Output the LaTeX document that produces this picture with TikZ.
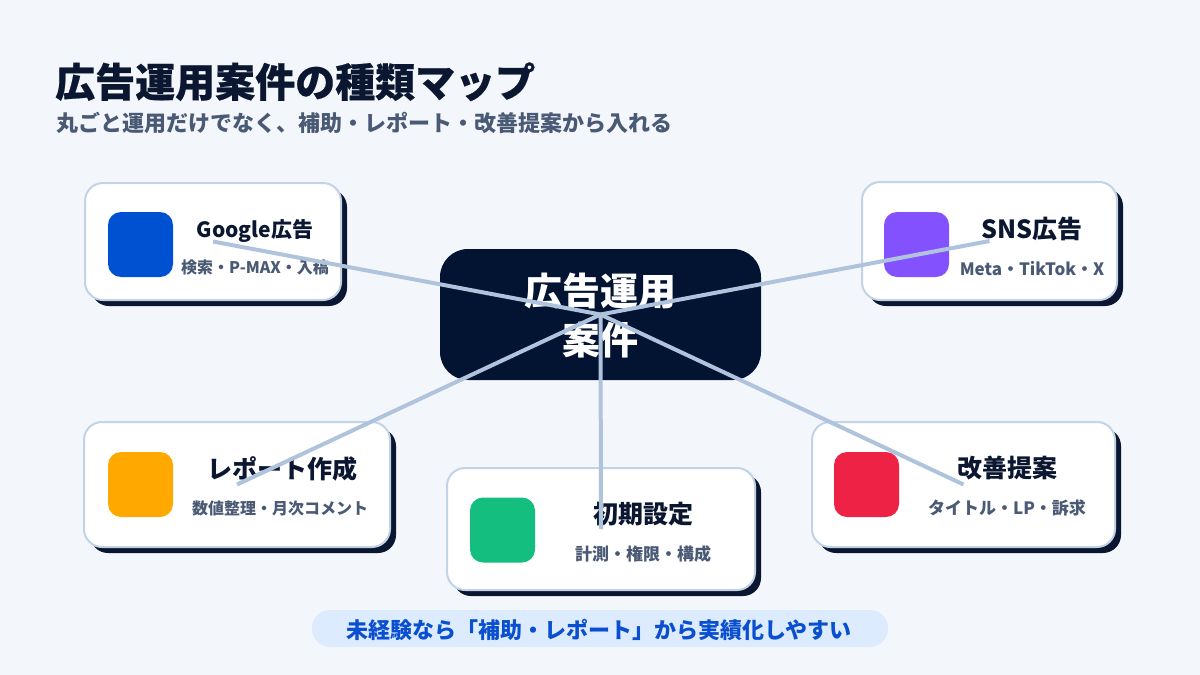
\documentclass[tikz,border=0pt]{standalone}
\usepackage{fontspec}
\setmainfont{Noto Sans CJK JP}
\newfontfamily\heavyjp{Noto Sans CJK JP}[BoldFeatures={FakeBold=0.5}]
\usetikzlibrary{shadows}
\definecolor{bgc}{HTML}{F3F7FC}
\definecolor{navy}{HTML}{0B1730}
\definecolor{centerc}{HTML}{021431}
\definecolor{subc}{HTML}{4A5A75}
\definecolor{cardborder}{HTML}{C3D3E6}
\definecolor{linkc}{HTML}{AFC3DD}
\definecolor{gblue}{HTML}{0050D2}
\definecolor{purplec}{HTML}{8451FF}
\definecolor{orangec}{HTML}{FFA800}
\definecolor{greenc}{HTML}{14BE7E}
\definecolor{redc}{HTML}{EE2245}
\definecolor{pillc}{HTML}{DCEBFE}
\definecolor{pilltext}{HTML}{0A4FCF}
\newcommand\setfs[1]{\fontsize{#1}{#1}\selectfont}
\begin{document}
\begin{tikzpicture}[x=1pt,y=-1pt,
  card/.style={draw=cardborder, line width=2pt, fill=white, rounded corners=18pt,
    general shadow={fill=navy, shadow xshift=6pt, shadow yshift=-6pt}, inner sep=0pt},
  icon/.style={fill=#1, rounded corners=13pt, minimum size=65pt, inner sep=0pt},
  ctitle/.style={anchor=base, inner sep=0pt, text=navy, font=\bfseries\setfs{25}},
  csub/.style={anchor=base, inner sep=0pt, text=subc, font=\bfseries\setfs{17}},
  link/.style={draw=linkc, line width=4pt}]
\useasboundingbox (0,0) rectangle (1200,675);
\fill[bgc] (0,0) rectangle (1200,675);

% heading
\node[anchor=base west, inner sep=0pt, text=navy, font=\heavyjp\bfseries\setfs{40}] (title) at (55,97) {広告運用案件の種類マップ};
\node[anchor=base west, inner sep=0pt, text=subc, font=\bfseries\setfs{22}] (subtitle) at (56,131.5) {丸ごと運用だけでなく、補助・レポート・改善提案から入れる};

% center
\node[fill=centerc, rounded corners=28pt, minimum width=321pt, minimum height=131pt, inner sep=0pt] (hub) at (600.5,314.5) {};
\node[anchor=base, inner sep=0pt, text=white, font=\bfseries\setfs{38}] (hubt1) at (600,305) {広告運用};
\node[anchor=base, inner sep=0pt, text=white, font=\bfseries\setfs{38}] (hubt2) at (600,354.5) {案件};

% cards
\node[card, minimum width=256pt, minimum height=117pt] (google) at (213,241.5) {};
\node[icon=gblue] (googleicon) at (140.5,244.5) {};
\node[ctitle, font=\bfseries\setfs{21}] (googlet) at (255,237) {Google広告};
\node[csub, font=\bfseries\setfs{16}] (googles) at (255,273.5) {検索・P-MAX・入稿};

\node[card, minimum width=255pt, minimum height=118pt] (sns) at (989.5,241) {};
\node[icon=purplec] (snsicon) at (916.5,244.5) {};
\node[ctitle] (snst) at (1032,238) {SNS広告};
\node[csub] (snss) at (1032,275) {Meta・TikTok・X};

\node[card, minimum width=306pt, minimum height=125pt] (report) at (237,484.5) {};
\node[icon=orangec] (reporticon) at (140.5,484.5) {};
\node[ctitle] (reportt) at (282,478) {レポート作成};
\node[csub, font=\bfseries\setfs{16}] (reports) at (280,514.5) {数値整理・月次コメント};

\node[card, minimum width=308pt, minimum height=122pt] (init) at (601,529) {};
\node[icon=greenc] (initicon) at (502.5,530) {};
\node[ctitle] (initt) at (643,523) {初期設定};
\node[csub] (inits) at (643,560.5) {計測・権限・構成};

\node[card, minimum width=303pt, minimum height=125pt] (improve) at (963.5,484.5) {};
\node[icon=redc] (improveicon) at (866.5,484.5) {};
\node[ctitle] (improvet) at (1007,477.5) {改善提案};
\node[csub] (improves) at (1007,514) {タイトル・LP・訴求};

% bottom pill
\node[fill=pillc, rounded corners=18pt, minimum width=576pt, minimum height=37pt, inner sep=0pt] (pill) at (600,628.5) {};
\node[anchor=base, inner sep=0pt, text=pilltext, font=\bfseries\setfs{22}] (pillt) at (599,638.5) {未経験なら「補助・レポート」から実績化しやすい};

% connectors (drawn on top)
\draw[link] (hub.center) -- (google.center);
\draw[link] (hub.center) -- (sns.center);
\draw[link] (hub.center) -- (report.center);
\draw[link] (hub.center) -- (init.center);
\draw[link] (hub.center) -- (improve.center);
\end{tikzpicture}
\end{document}
